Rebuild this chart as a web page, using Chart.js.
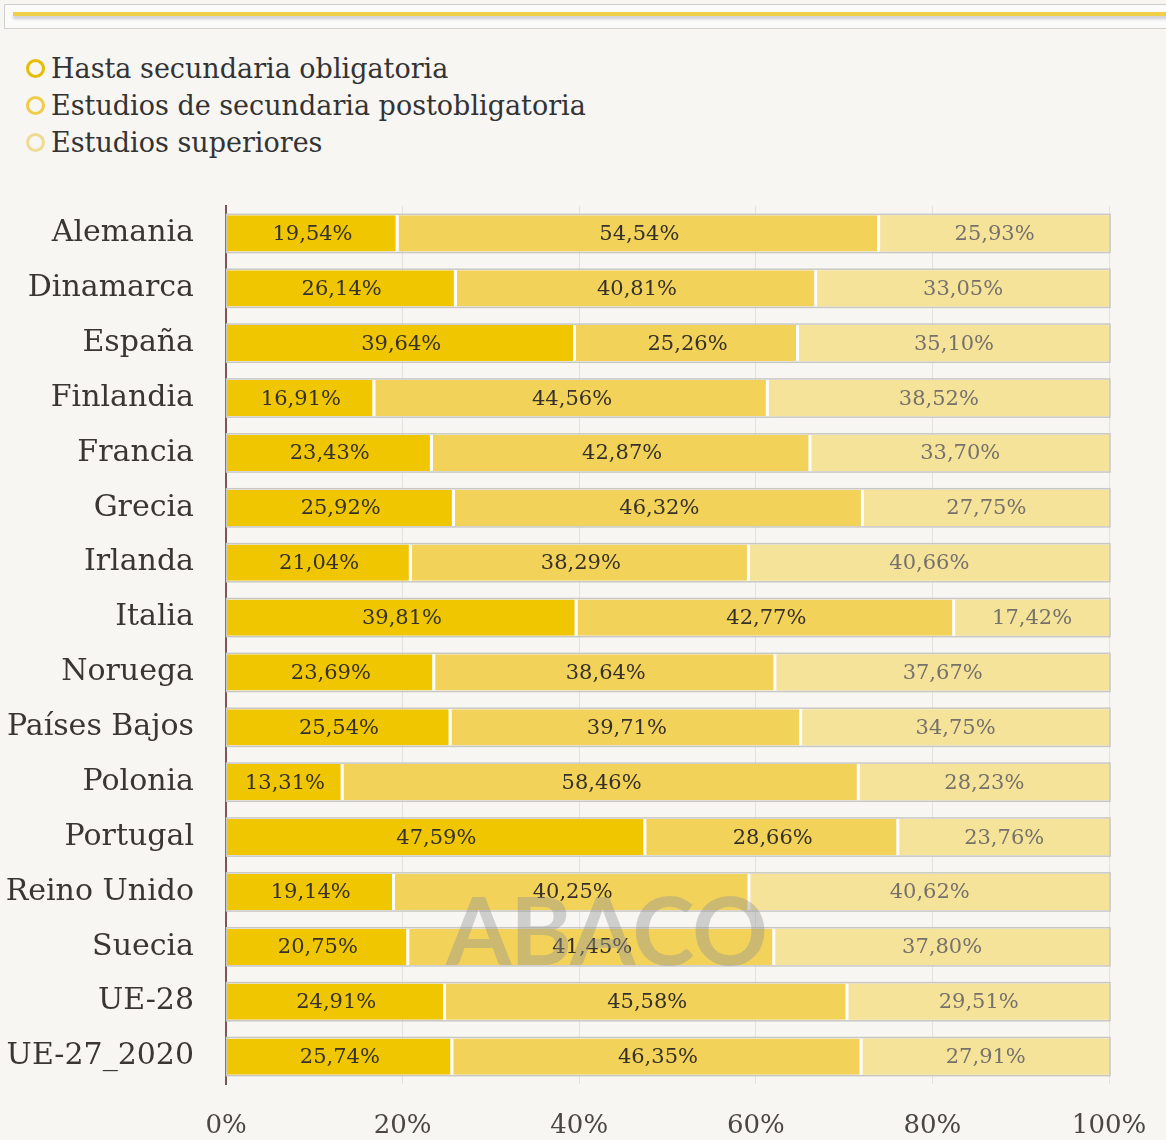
<!DOCTYPE html>
<html>
<head>
<meta charset="utf-8">
<script src="https://cdn.jsdelivr.net/npm/chart.js@4"></script>
<style>
  html, body { margin: 0; padding: 0; background: #f7f6f3; }
  #wrap { position: relative; width: 1166px; height: 1140px; overflow: hidden; }
  #topbar { position: absolute; left: 4px; top: 4px; width: 1170px; height: 23px; border: 1px solid #cfcfcf; background: #fbfbf9; }
  #topbar div { position: absolute; left: 8px; right: 0; top: 7px; height: 4px; background: #f0cf48; box-shadow: 0 3px 3px rgba(120,120,150,0.35); }
  #leyenda { position: absolute; left: 26px; top: 50px; font-family: "DejaVu Serif", serif; font-size: 27px; color: #333; }
  #leyenda .item { height: 37px; line-height: 37px; display: flex; align-items: center; }
  #leyenda .dot { width: 13px; height: 13px; border-radius: 50%; border: 3.5px solid; margin-right: 6px; background: #f7f6f3; }
  #marca { position: absolute; left: 446px; top: 872px; font-family: "Lato", sans-serif; font-weight: 700; font-size: 94px; letter-spacing: -1px; color: rgba(150,150,150,0.42); pointer-events: none; }
  canvas { position: absolute; left: 0; top: 0; }
</style>
</head>
<body>
<div id="wrap">
  <div id="topbar"><div></div></div>
  <div id="leyenda"></div>
  <canvas id="grafico" width="1166" height="1140"></canvas>
  <div id="marca">ABACO</div>
</div>
<script>
const paises = ["Alemania", "Dinamarca", "España", "Finlandia", "Francia", "Grecia", "Irlanda", "Italia",
  "Noruega", "Países Bajos", "Polonia", "Portugal", "Reino Unido", "Suecia", "UE-28", "UE-27_2020"];

const hastaSecundaria = [19.54, 26.14, 39.64, 16.91, 23.43, 25.92, 21.04, 39.81, 23.69, 25.54, 13.31, 47.59, 19.14, 20.75, 24.91, 25.74];
const postobligatoria = [54.54, 40.81, 25.26, 44.56, 42.87, 46.32, 38.29, 42.77, 38.64, 39.71, 58.46, 28.66, 40.25, 41.45, 45.58, 46.35];
const superiores = [25.93, 33.05, 35.10, 38.52, 33.70, 27.75, 40.66, 17.42, 37.67, 34.75, 28.23, 23.76, 40.62, 37.80, 29.51, 27.91];

const series = ["Hasta secundaria obligatoria", "Estudios de secundaria postobligatoria", "Estudios superiores"];
const colores = ["#efc600", "#f2d258", "#f6e39a"];
const coloresAro = ["#e6bd00", "#efcc4a", "#efdb93"];
const coloresTexto = ["#35302a", "#35302a", "#75716b"];

// leyenda en html, vertical
const leyenda = document.getElementById("leyenda");
series.forEach((s, i) => {
  const item = document.createElement("div");
  item.className = "item";
  item.innerHTML = `<span class="dot" style="border-color:${coloresAro[i]}"></span>${s}`;
  leyenda.appendChild(item);
});

const fmt = v => v.toFixed(2).replace(".", ",") + "%";

// etiquetas dentro de cada segmento
const etiquetas = {
  id: "etiquetas",
  afterDatasetsDraw(chart) {
    const ctx = chart.ctx;
    ctx.save();
    ctx.font = '21px "DejaVu Serif", serif';
    ctx.textAlign = "center";
    ctx.textBaseline = "middle";
    chart.data.datasets.forEach((ds, di) => {
      const meta = chart.getDatasetMeta(di);
      ctx.fillStyle = coloresTexto[di];
      meta.data.forEach((bar, i) => {
        const cx = (bar.x + bar.base) / 2;
        ctx.fillText(fmt(ds.data[i]), cx, bar.y + 1);
      });
    });
    ctx.restore();
  }
};

// contorno gris de cada barra apilada
const contorno = {
  id: "contorno",
  afterDatasetsDraw(chart) {
    const ctx = chart.ctx;
    const primera = chart.getDatasetMeta(0).data;
    const ultima = chart.getDatasetMeta(chart.data.datasets.length - 1).data;
    ctx.save();
    ctx.strokeStyle = "#c9c8c4";
    ctx.lineWidth = 1.5;
    primera.forEach((bar, i) => {
      const fin = ultima[i];
      const h = bar.height;
      ctx.strokeRect(bar.base, bar.y - h / 2 - 1, fin.x - bar.base + 1, h + 2);
    });
    ctx.restore();
  }
};

new Chart(document.getElementById("grafico"), {
  type: "bar",
  data: {
    labels: paises,
    datasets: [
      { label: series[0], data: hastaSecundaria, backgroundColor: colores[0] },
      { label: series[1], data: postobligatoria, backgroundColor: colores[1] },
      { label: series[2], data: superiores, backgroundColor: colores[2] }
    ].map((d, i) => Object.assign(d, {
      borderColor: "#ffffff",
      borderWidth: i < 2 ? { top: 0, bottom: 0, left: 0, right: 3 } : 0,
      borderSkipped: false,
      categoryPercentage: 0.66,
      barPercentage: 1
    }))
  },
  options: {
    indexAxis: "y",
    responsive: false,
    animation: false,
    layout: { padding: { top: 206, right: 57, left: 0, bottom: 0 } },
    plugins: {
      legend: { display: false },
      tooltip: { enabled: false }
    },
    scales: {
      x: {
        stacked: true,
        min: 0,
        max: 100,
        ticks: {
          stepSize: 20,
          color: "#4a4744",
          padding: 27,
          font: { family: "DejaVu Serif", size: 26 },
          callback: v => v + "%"
        },
        grid: { color: "#e3e2de", lineWidth: 1, drawTicks: false },
        border: { display: false },
        afterFit: s => { s.height = 56; s.paddingLeft = 0; s.paddingRight = 0; }
      },
      y: {
        stacked: true,
        ticks: {
          color: "#3a3632",
          padding: 32,
          font: { family: "DejaVu Serif", size: 30 }
        },
        grid: { display: false, drawTicks: false },
        border: { display: true, color: "#7d5552", width: 2 },
        afterFit: s => { s.width = 226; }
      }
    }
  },
  plugins: [contorno, etiquetas]
});
</script>
</body>
</html>
